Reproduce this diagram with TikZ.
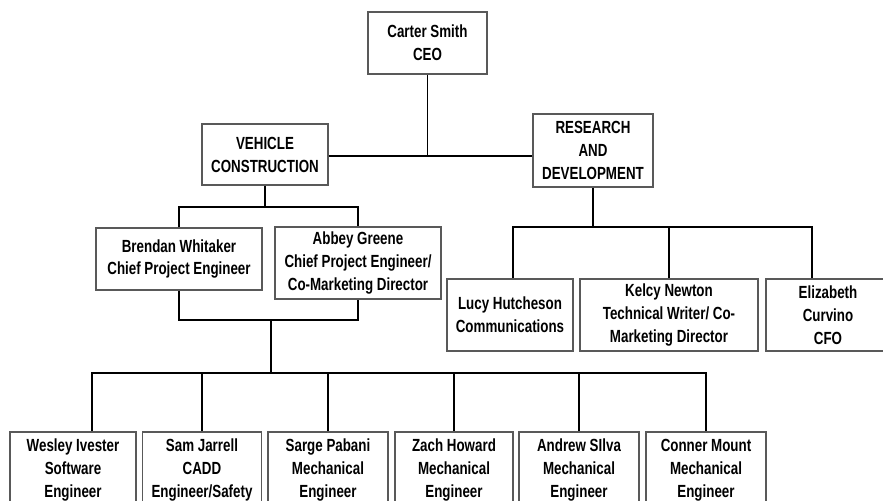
\documentclass[tikz,border=0pt]{standalone}
\usepackage{fontspec}
\setmainfont{Liberation Sans}[FakeStretch=0.76]
\begin{document}
\begin{tikzpicture}[x=0.03cm, y=-0.03cm,
    box/.style={draw=black!65, line width=1.1pt, fill=white, align=center, inner sep=0pt,
        font=\bfseries\fontsize{15}{19.6}\selectfont},
    link/.style={draw=black, line width=1.6pt}]
    \useasboundingbox (0,0) rectangle (883,501);
    % Top
    \node[box, minimum width=3.57cm, minimum height=1.86cm] (ceo) at (427.5,43) {Carter Smith\\CEO};
    \node[box, minimum width=3.78cm, minimum height=1.83cm] (veh) at (265,154.5) {VEHICLE\\CONSTRUCTION};
    \node[box, minimum width=3.6cm, minimum height=2.19cm] (rnd) at (593,150.5) {RESEARCH\\AND\\DEVELOPMENT};
    \coordinate (topbus) at (427.5,156);
    \draw[link] (ceo) -- (topbus);
    \draw[link] (veh.east |- topbus) -- (rnd.west |- topbus);
    % Vehicle construction
    \node[box, minimum width=4.98cm, minimum height=1.86cm] (brendan) at (179,259) {Brendan Whitaker\\Chief Project Engineer};
    \node[box, minimum width=4.98cm, minimum height=2.16cm] (abbey) at (358,263) {Abbey Greene\\Chief Project Engineer/\\Co-Marketing Director};
    \coordinate (vbus) at (265,207);
    \draw[link] (veh) -- (vbus);
    \draw[link] (brendan.north) |- (vbus) -| (abbey.north);
    \coordinate (cbus) at (271,320);
    \coordinate (ebus) at (271,373);
    \draw[link] (brendan.south) |- (cbus) -| (abbey.south);
    \draw[link] (cbus) -- (ebus);
    % Engineers
    \node[box, minimum width=3.78cm, minimum height=2.28cm] (wesley) at (73,470) {Wesley Ivester\\Software\\Engineer};
    \node[box, minimum width=3.57cm, minimum height=2.28cm] (sam) at (202,470) {Sam Jarrell\\CADD\\Engineer/Safety};
    \node[box, minimum width=3.6cm, minimum height=2.28cm] (sarge) at (328,470) {Sarge Pabani\\Mechanical\\Engineer};
    \node[box, minimum width=3.54cm, minimum height=2.28cm] (zach) at (454,470) {Zach Howard\\Mechanical\\Engineer};
    \node[box, minimum width=3.6cm, minimum height=2.28cm] (andrew) at (579,470) {Andrew SIlva\\Mechanical\\Engineer};
    \node[box, minimum width=3.6cm, minimum height=2.28cm] (conner) at (706,470) {Conner Mount\\Mechanical\\Engineer};
    \draw[link] (ebus) -| ([xshift=0.57cm]wesley.north);
    \foreach \n in {sam,sarge,zach,andrew,conner}{
        \draw[link] (ebus) -| (\n.north);
    }
    % Research and development
    \node[box, minimum width=3.78cm, minimum height=2.16cm] (lucy) at (510,315) {Lucy Hutcheson\\Communications};
    \node[box, minimum width=5.34cm, minimum height=2.16cm] (kelcy) at (669,315) {Kelcy Newton\\Technical Writer/ Co-\\Marketing Director};
    \node[box, minimum width=3.72cm, minimum height=2.16cm] (eliz) at (828,315) {Elizabeth\\Curvino\\CFO};
    \coordinate (rbus) at (593,227);
    \draw[link] (rnd) -- (rbus);
    \draw[link] (rbus) -| ([xshift=0.09cm]lucy.north);
    \draw[link] (rbus) -| (kelcy.north);
    \draw[link] (rbus) -| ([xshift=-0.48cm]eliz.north);
\end{tikzpicture}
\end{document}
